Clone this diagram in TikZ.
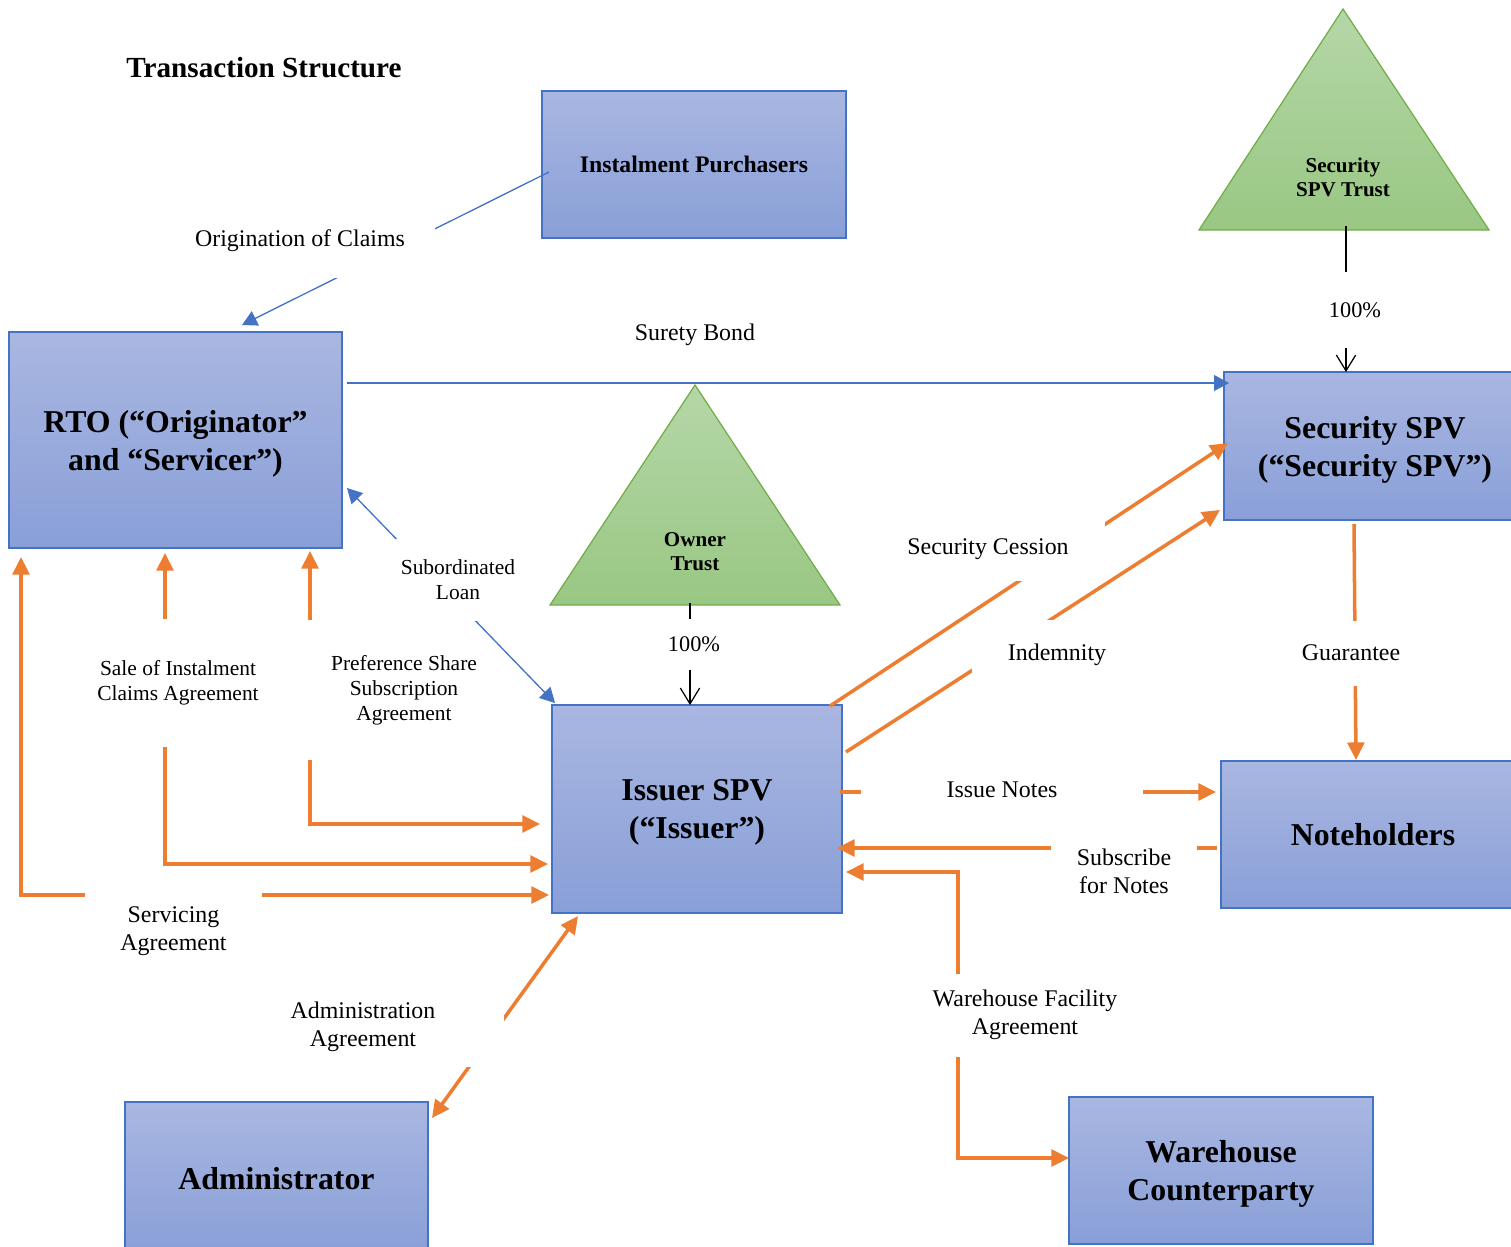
\documentclass[tikz,border=0pt]{standalone}
\usepackage{fontspec}
\setmainfont{Liberation Serif}
\usetikzlibrary{arrows.meta, calc}

\definecolor{boxtop}{HTML}{A9B7E1}
\definecolor{boxbot}{HTML}{899FD8}
\definecolor{boxline}{HTML}{4472C4}
\definecolor{tritop}{HTML}{B5D7A8}
\definecolor{tribot}{HTML}{99C783}
\definecolor{triline}{HTML}{70AD47}
\definecolor{flow}{HTML}{ED7D31}

\begin{document}
\begin{tikzpicture}[
	  x=0.02cm, y=-0.02cm,
	  font=\fontsize{13.6}{15.9}\selectfont,
	  party/.style={
	    draw=boxline,
	    line width=0.7pt,
	    top color=boxtop,
	    bottom color=boxbot,
	    align=center,
	    inner sep=0pt,
	    outer sep=0pt,
	    text depth=0pt,
	    minimum width=6.08cm,
	    minimum height=2.94cm,
	    font=\fontsize{18.1}{21.6}\selectfont\bfseries
	  },
	  trust/.style={draw=triline, line width=0.7pt, top color=tritop, bottom color=tribot},
	  trustlbl/.style={align=center, font=\fontsize{12}{13.7}\selectfont\bfseries},
	  lbl/.style={fill=white, inner sep=0pt, align=center},
	  small/.style={lbl, font=\fontsize{12.2}{14.2}\selectfont},
	  blink/.style={draw=boxline, line width=0.75pt, -{Triangle[length=8.5pt,width=9pt]}},
	  bboth/.style={blink, {Triangle[length=8.5pt,width=9pt]}-{Triangle[length=8.5pt,width=9pt]}},
	  oflow/.style={draw=flow, line width=2pt, -{Triangle[length=10pt,width=9.5pt]}},
	  oboth/.style={oflow, {Triangle[length=10pt,width=9.5pt]}-{Triangle[length=10pt,width=9.5pt]}},
	  own/.style={draw=black, line width=0.7pt, -{Straight Barb[length=9pt,width=11pt]}}
	]
	\useasboundingbox (0,0) rectangle (1511,1247);
	
	\node[font=\fontsize{16.6}{20}\selectfont\bfseries] (title) at (264,68) {Transaction Structure};
	
	% Parties
	\node[party, font=\fontsize{13.5}{16}\selectfont\bfseries] (purch) at (694,164.5) {Instalment Purchasers};
	\node[party, minimum width=6.66cm, minimum height=4.32cm] (rto) at (175.5,440) {RTO (“Originator”\\and “Servicer”)};
	\node[party, minimum width=6.04cm, minimum height=2.96cm] (secspv) at (1375,446) {Security SPV\\(“Security SPV”)};
	\node[party, minimum width=5.8cm, minimum height=4.16cm] (issuer) at (697,809) {Issuer SPV\\(“Issuer”)};
	\node[party] (noteh) at (1373,834.5) {Noteholders};
	\node[party, minimum width=6.06cm, minimum height=3.04cm] (admin) at (276.5,1178) {Administrator};
	\node[party] (whc) at (1221,1170.5) {Warehouse\\Counterparty};
	
	% Trusts
	\draw[trust] (695,385) -- (840,605) -- (550,605) -- cycle;
	\node[trustlbl] (owntr) at (695,552) {Owner\\Trust};
	\coordinate (ownbase) at (690,603);
	
	\draw[trust] (1343,9) -- (1489,230) -- (1199,230) -- cycle;
	\node[trustlbl] (sectr) at (1343,177) {Security\\SPV Trust};
	\coordinate (secbase) at (1346,226);
	
	% Orange flows
	\draw[oboth] ($(rto.south)+(-10.5,5)$) |- ($(issuer.west)+(-4,55)$);
	\draw[oboth] ($(rto.south)+(134.5,3)$) |- ($(issuer.west)+(-12,15)$);
	\draw[oboth] ($(rto.south west)+(12,9)$) |- ($(issuer.west)+(-3,86)$);
	\draw[oboth] ($(admin.north east)+(4,16)$) -- ($(issuer.south west)+(26,3)$);
	\draw[oflow] ($(issuer.north east)+(-12,1)$) -- ($(secspv.west)+(4,-3)$);
	\draw[oflow] ($(issuer.east)+(4,-57)$) -- ($(secspv.south west)+(-4,-10)$);
	\draw[oflow] ($(secspv.south)+(-21,4)$) -- ($(noteh.north)+(-17,-1)$);
	\coordinate (issout) at ($(issuer.east)+(-2,-17)$);
	\draw[oflow] (issout) -- ($(issout -| noteh.west)+(-5,0)$);
	\coordinate (subin) at ($(noteh.west)+(-4,13.5)$);
	\draw[oflow] (subin) -- ($(subin -| issuer.east)+(-5,0)$);
	\draw[oboth] ($(issuer.east)+(4,63)$) -| ($(whc.west)+(-111,-12.5)$) -- ($(whc.west)+(0,-12.5)$);
	
	\node[small, minimum width=3.92cm, minimum height=2.8cm] (preflbl) at (404,690) {Preference Share\\Subscription\\Agreement};
	
	% Blue links
	\draw[blink] ($(purch.west)+(7,7.5)$) -- ($(rto.north)+(66.5,-7)$);
	\draw[blink] ($(rto.east)+(5,-57)$) -- ($(secspv.west)+(5,-63)$);
	\draw[bboth] ($(rto.east)+(5,48)$) -- ($(issuer.north west)+(3,-2)$);
	
	% Ownership
	\draw[own] (ownbase) -- (ownbase |- issuer.north);
	\draw[own] (secbase) -- (secbase |- secspv.north);
	
	% Labels
	\node[lbl, minimum width=5.4cm, minimum height=1.48cm] (origlbl) at (300,241) {Origination of Claims};
	\node (suretylbl) at (695,335) {Surety Bond};
	\node[small, minimum width=2.5cm, minimum height=1.66cm] (subloan) at (458,580) {Subordinated\\Loan};
	\node[small, minimum width=3.4cm, minimum height=2.56cm] (salelbl) at (178,683) {Sale of Instalment\\Claims Agreement};
	\node[lbl, minimum width=3.54cm, minimum height=1.76cm] (servlbl) at (173.5,931.5) {Servicing\\Agreement};
	\node[lbl, minimum width=5.64cm, minimum height=1.6cm] (admlbl) at (363,1026.5) {Administration\\Agreement};
	\node[lbl, minimum width=1.2cm, minimum height=1.02cm, font=\fontsize{12.7}{15}\selectfont] (own100) at (694,644) {100\%};
	\node[lbl, minimum width=1.2cm, minimum height=1.52cm, font=\fontsize{12.7}{15}\selectfont] (sec100) at (1355,310) {100\%};
	\node[lbl, minimum width=4.68cm, minimum height=1.28cm] (cesslbl) at (988,549) {Security Cession};
	\node[lbl, minimum width=3.4cm, minimum height=1.4cm] (indlbl) at (1057,655) {Indemnity};
	\node[lbl, minimum width=2.4cm, minimum height=1.3cm] (guarlbl) at (1351,653) {Guarantee};
	\node[lbl, minimum width=5.64cm, minimum height=0.8cm] (isslbl) at (1002,790) {Issue Notes};
	\node[lbl, minimum width=2.92cm, minimum height=1.32cm] (sublbl) at (1124,871) {Subscribe\\for Notes};
	\node[lbl, minimum width=4cm, minimum height=1.66cm] (wfalbl) at (1025,1015) {Warehouse Facility\\Agreement};
	
	\end{tikzpicture}
\end{document}
